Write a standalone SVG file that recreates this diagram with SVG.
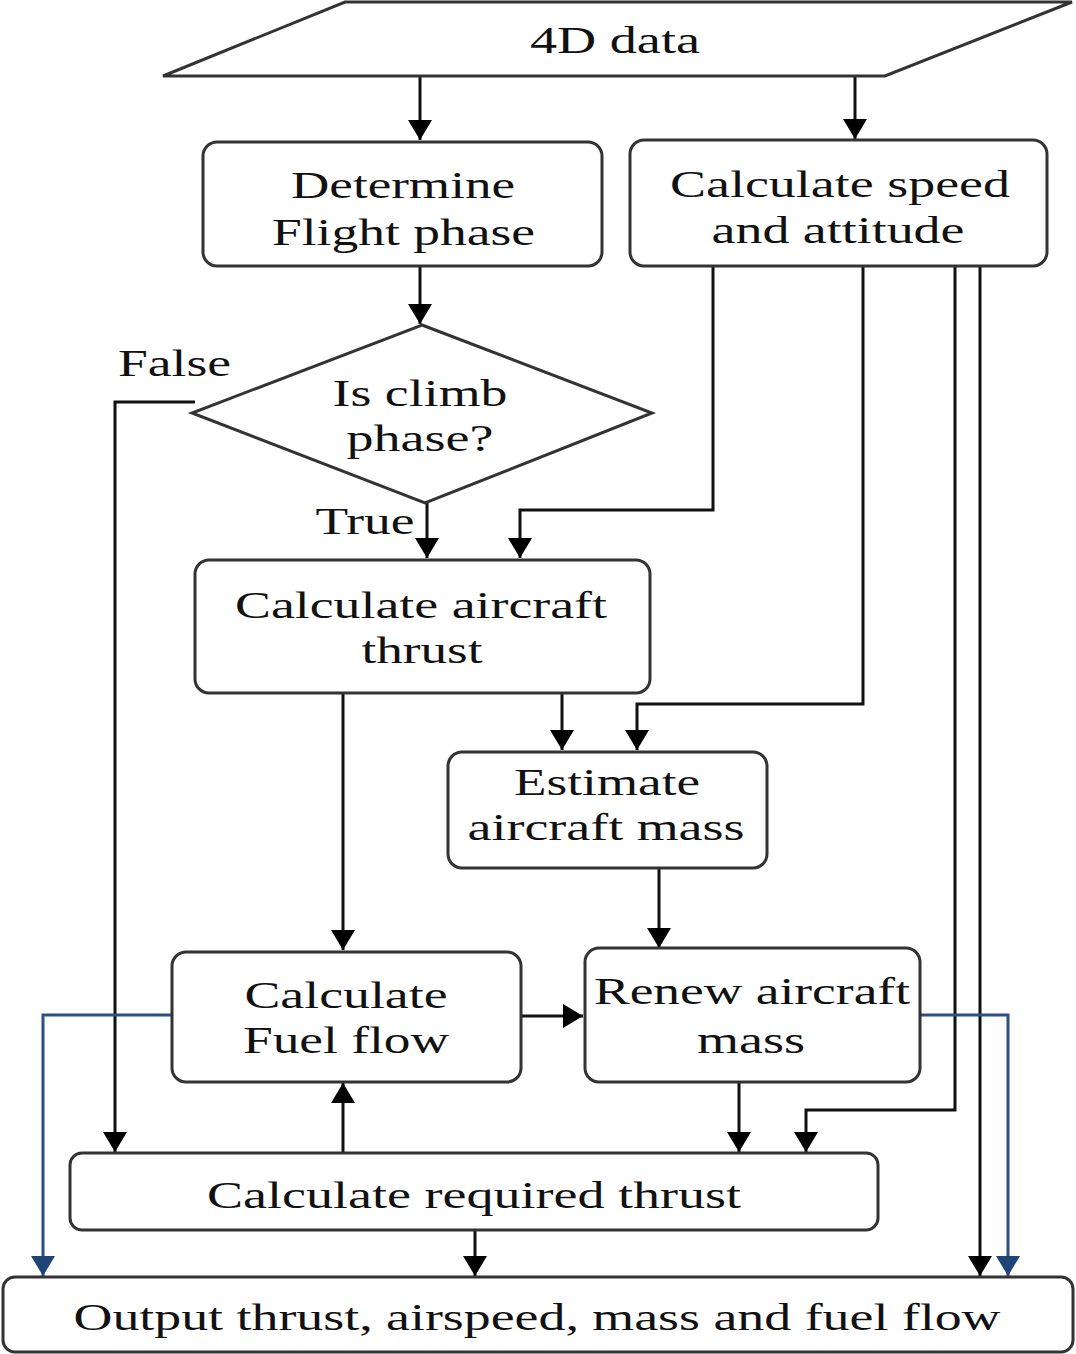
<svg xmlns="http://www.w3.org/2000/svg" width="1076" height="1354" viewBox="0 0 1076 1354">
<style>
.box{fill:#fff;stroke:#333;stroke-width:3}
.t{font-family:"Liberation Serif","Times New Roman",serif;font-size:38px;fill:#111;text-anchor:middle}
.ln{fill:none;stroke:#111;stroke-width:3}
.bl{fill:none;stroke:#2c4f86;stroke-width:3}
</style>
<defs>
<marker id="ah" markerUnits="userSpaceOnUse" markerWidth="22" markerHeight="24" refX="20" refY="12" orient="auto"><path d="M0,0 L20,12 L0,24 z" fill="#000"/></marker>
<marker id="ahb" markerUnits="userSpaceOnUse" markerWidth="22" markerHeight="24" refX="20" refY="12" orient="auto"><path d="M0,0 L20,12 L0,24 z" fill="#1f4478"/></marker>
</defs>
<rect width="1076" height="1354" fill="#fff"/>
<g id="connectors">
<path class="ln" d="M420,76 V140" marker-end="url(#ah)"/>
<path class="ln" d="M855,76 V139" marker-end="url(#ah)"/>
<path class="ln" d="M420,266 V324" marker-end="url(#ah)"/>
<path class="ln" d="M195,402 H115 V1152" marker-end="url(#ah)"/>
<path class="ln" d="M427,503 V558" marker-end="url(#ah)"/>
<path class="ln" d="M713,266 V510 H520 V558" marker-end="url(#ah)"/>
<path class="ln" d="M863,266 V704 H637 V750" marker-end="url(#ah)"/>
<path class="ln" d="M562,693 V750" marker-end="url(#ah)"/>
<path class="ln" d="M343,693 V950" marker-end="url(#ah)"/>
<path class="ln" d="M659,868 V948" marker-end="url(#ah)"/>
<path class="ln" d="M521,1016 H583" marker-end="url(#ah)"/>
<path class="ln" d="M343,1153 V1083" marker-end="url(#ah)"/>
<path class="ln" d="M739,1082 V1152" marker-end="url(#ah)"/>
<path class="ln" d="M955,266 V1110 H806 V1152" marker-end="url(#ah)"/>
<path class="ln" d="M980,266 V1276" marker-end="url(#ah)"/>
<path class="ln" d="M475,1230 V1276" marker-end="url(#ah)"/>
<path class="bl" d="M172,1015 H43 V1276" marker-end="url(#ahb)"/>
<path class="bl" d="M920,1015 H1008 V1276" marker-end="url(#ahb)"/>
</g>
<g id="data4d">
<polygon class="box" points="345,2 1072,2 885,76 163,76"/>
<text class="t" x="615" y="53" textLength="170" lengthAdjust="spacingAndGlyphs">4D data</text>
</g>
<g id="determine">
<rect class="box" x="203" y="142" width="399" height="124" rx="14"/>
<text class="t" x="403" y="198" textLength="224" lengthAdjust="spacingAndGlyphs">Determine</text>
<text class="t" x="403.5" y="245" textLength="263" lengthAdjust="spacingAndGlyphs">Flight phase</text>
</g>
<g id="speed">
<rect class="box" x="630" y="140" width="417" height="126" rx="14"/>
<text class="t" x="840" y="197" textLength="340" lengthAdjust="spacingAndGlyphs">Calculate speed</text>
<text class="t" x="838" y="243" textLength="253" lengthAdjust="spacingAndGlyphs">and attitude</text>
</g>
<g id="climb">
<polygon class="box" points="422,325 652,413 425,503 192,413"/>
<text class="t" x="420" y="406" textLength="175" lengthAdjust="spacingAndGlyphs">Is climb</text>
<text class="t" x="420" y="451" textLength="147" lengthAdjust="spacingAndGlyphs">phase?</text>
</g>
<g id="labels">
<text class="t" x="174.5" y="376" textLength="113" lengthAdjust="spacingAndGlyphs">False</text>
<text class="t" x="365" y="534" textLength="99" lengthAdjust="spacingAndGlyphs">True</text>
</g>
<g id="thrust">
<rect class="box" x="195" y="560" width="455" height="133" rx="14"/>
<text class="t" x="421" y="618" textLength="372" lengthAdjust="spacingAndGlyphs">Calculate aircraft</text>
<text class="t" x="422" y="663" textLength="121" lengthAdjust="spacingAndGlyphs">thrust</text>
</g>
<g id="estimate">
<rect class="box" x="448" y="752" width="319" height="116" rx="14"/>
<text class="t" x="607" y="795" textLength="186" lengthAdjust="spacingAndGlyphs">Estimate</text>
<text class="t" x="606" y="840" textLength="277" lengthAdjust="spacingAndGlyphs">aircraft mass</text>
</g>
<g id="fuel">
<rect class="box" x="172" y="952" width="349" height="130" rx="14"/>
<text class="t" x="346" y="1008" textLength="203" lengthAdjust="spacingAndGlyphs">Calculate</text>
<text class="t" x="346" y="1053" textLength="206" lengthAdjust="spacingAndGlyphs">Fuel flow</text>
</g>
<g id="renew">
<rect class="box" x="585" y="948" width="335" height="134" rx="14"/>
<text class="t" x="752" y="1004" textLength="316" lengthAdjust="spacingAndGlyphs">Renew aircraft</text>
<text class="t" x="751" y="1053" textLength="108" lengthAdjust="spacingAndGlyphs">mass</text>
</g>
<g id="required">
<rect class="box" x="70" y="1153" width="808" height="77" rx="12"/>
<text class="t" x="474" y="1208" textLength="534" lengthAdjust="spacingAndGlyphs">Calculate required thrust</text>
</g>
<g id="output">
<rect class="box" x="3" y="1277" width="1070" height="75" rx="12"/>
<text class="t" x="537" y="1330" textLength="927" lengthAdjust="spacingAndGlyphs">Output thrust, airspeed, mass and fuel flow</text>
</g>
</svg>
